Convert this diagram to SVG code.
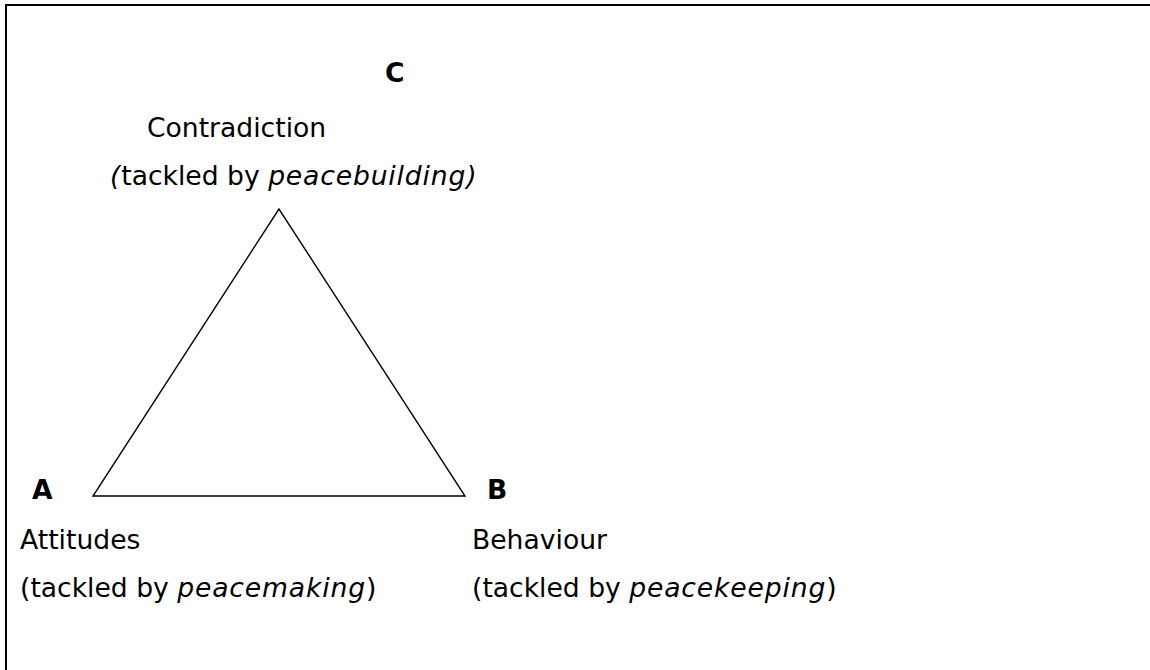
<svg xmlns="http://www.w3.org/2000/svg" width="1150" height="670" viewBox="0 0 1150 670">
<style>
.t{font-family:"DejaVu Sans","Verdana",sans-serif;font-size:26.6px;fill:#000}
.b{font-weight:bold}
.i{font-style:italic;letter-spacing:0.85px}
</style>
<rect width="1150" height="670" fill="#fff"/>
<path d="M6,670 V5 H1150" fill="none" stroke="#000" stroke-width="2"/>
<g id="connectors">
<polygon points="279,209 93,496 465,496" fill="none" stroke="#000" stroke-width="1.4"/>
</g>
<g id="nodeC">
<text class="t b" x="385" y="82">C</text>
<text class="t" x="147" y="137">Contradiction</text>
<text class="t" x="110" y="185"><tspan class="i">(</tspan>tackled by <tspan class="i">peacebuilding)</tspan></text>
</g>
<g id="nodeA">
<text class="t b" x="32" y="499">A</text>
<text class="t" x="20" y="549">Attitudes</text>
<text class="t" x="20" y="597">(tackled by <tspan class="i">peacemaking</tspan>)</text>
</g>
<g id="nodeB">
<text class="t b" x="487" y="499">B</text>
<text class="t" x="472" y="549">Behaviour</text>
<text class="t" x="472" y="597">(tackled by <tspan class="i">peacekeeping</tspan>)</text>
</g>
</svg>
